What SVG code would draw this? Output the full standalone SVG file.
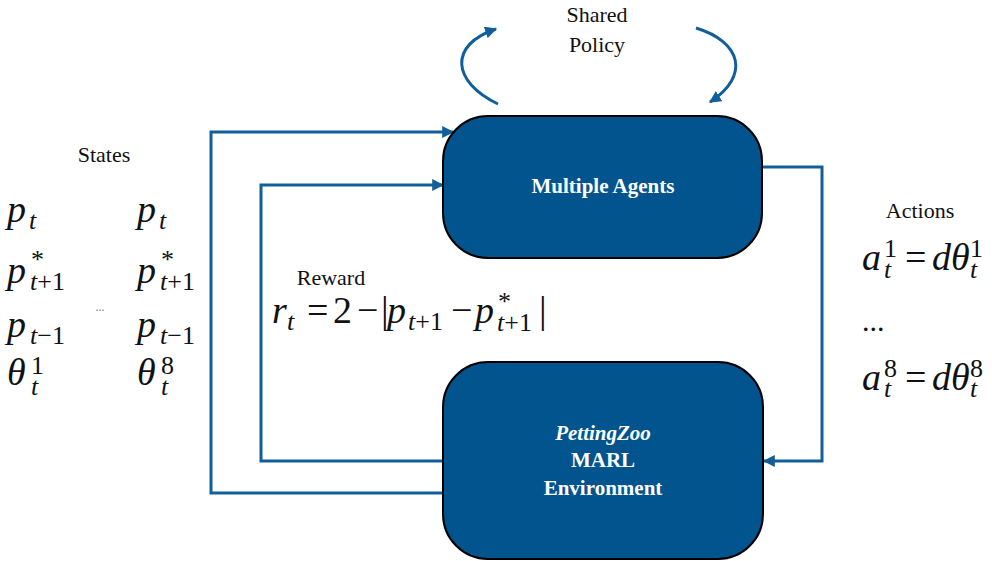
<svg xmlns="http://www.w3.org/2000/svg" width="992" height="561" viewBox="0 0 992 561">
<defs>
<marker id="ah" viewBox="0 0 10 10" refX="9" refY="5" markerWidth="4" markerHeight="4" orient="auto" markerUnits="strokeWidth">
<path d="M0,0 L10,5 L0,10 Z" fill="#115E9B"/>
</marker>
<style>
.box{fill:#02548F;stroke:#000;stroke-width:2}
.conn{fill:none;stroke:#115E9B;stroke-width:3}
.lbl{font-family:"Liberation Serif",serif;fill:#111;font-size:22px}
.bt{font-family:"Liberation Serif",serif;font-weight:bold;fill:#fff;font-size:21px;text-anchor:middle}
.m{font-family:"Liberation Serif",serif;font-style:italic;fill:#111;font-size:38px}
.s{font-style:italic;font-size:26px}
.rs{font-style:normal;font-size:26px}
.r{font-style:normal;font-size:38px}
</style>
</defs>
<rect width="992" height="561" fill="#fff"/>
<g id="connectors">
<polyline class="conn" points="443,493 211,493 211,132 453,132" marker-end="url(#ah)"/>
<polyline class="conn" points="443,461 261,461 261,185 443,185" marker-end="url(#ah)"/>
<polyline class="conn" points="762,167 822,167 822,461 764,461" marker-end="url(#ah)"/>
<path class="conn" d="M498,104 C452,82 448,45 496,29" marker-end="url(#ah)"/>
<path class="conn" d="M696,28 C742,42 750,76 710,102" marker-end="url(#ah)"/>
</g>
<g id="agents">
<rect class="box" x="443" y="116" width="319" height="142" rx="45" ry="45"/>
<text class="bt" x="603" y="193">Multiple Agents</text>
</g>
<g id="env">
<rect class="box" x="443" y="362" width="320" height="197" rx="45" ry="45"/>
<text class="bt" x="603" y="440" font-style="italic">PettingZoo</text>
<text class="bt" x="603" y="467">MARL</text>
<text class="bt" x="603" y="495">Environment</text>
</g>
<g id="shared-policy">
<text class="lbl" x="597" y="22" font-size="25" text-anchor="middle">Shared</text>
<text class="lbl" x="597" y="52" font-size="25" text-anchor="middle">Policy</text>
</g>
<g id="states">
<text class="lbl" x="104" y="162" text-anchor="middle">States</text>
<text class="m"><tspan x="7" y="222">p</tspan><tspan class="s" x="29" y="229">t</tspan></text>
<text class="m"><tspan x="7" y="283">p</tspan><tspan class="rs" x="31" y="268">*</tspan><tspan class="s" x="30" y="290">t</tspan><tspan class="rs">+1</tspan></text>
<text class="m"><tspan x="7" y="337">p</tspan><tspan class="s" x="30" y="344">t</tspan><tspan class="rs">−1</tspan></text>
<text class="m"><tspan x="7" y="385">θ</tspan><tspan class="rs" x="31" y="374">1</tspan><tspan class="s" x="31" y="395">t</tspan></text>
<text x="100" y="311" font-family="Liberation Serif, serif" font-size="12" text-anchor="middle" fill="#777">...</text>
<text class="m"><tspan x="137" y="222">p</tspan><tspan class="s" x="159" y="229">t</tspan></text>
<text class="m"><tspan x="137" y="283">p</tspan><tspan class="rs" x="161" y="268">*</tspan><tspan class="s" x="160" y="290">t</tspan><tspan class="rs">+1</tspan></text>
<text class="m"><tspan x="137" y="337">p</tspan><tspan class="s" x="160" y="344">t</tspan><tspan class="rs">−1</tspan></text>
<text class="m"><tspan x="137" y="385">θ</tspan><tspan class="rs" x="161" y="374">8</tspan><tspan class="s" x="161" y="395">t</tspan></text>
</g>
<g id="reward">
<text class="lbl" x="331" y="285" text-anchor="middle">Reward</text>
<text class="m"><tspan x="272" y="323">r</tspan><tspan class="s" x="287" y="330">t</tspan><tspan class="r" x="307" y="323">=</tspan><tspan class="r" x="333" y="323">2</tspan><tspan class="r" x="357" y="323">−</tspan><tspan class="r" x="381" y="323">|</tspan><tspan x="387" y="323">p</tspan><tspan class="s" x="408" y="330">t</tspan><tspan class="rs">+1</tspan><tspan class="r" x="451" y="323">−</tspan><tspan x="475" y="323">p</tspan><tspan class="rs" x="498" y="310">*</tspan><tspan class="s" x="497" y="331">t</tspan><tspan class="rs">+1</tspan><tspan class="r" x="539" y="323">|</tspan></text>
</g>
<g id="actions">
<text class="lbl" x="920" y="218" text-anchor="middle">Actions</text>
<text class="m"><tspan x="862" y="270">a</tspan><tspan class="rs" x="884" y="257">1</tspan><tspan class="s" x="884" y="278">t</tspan><tspan class="r" x="905" y="270">=</tspan><tspan x="932" y="270">dθ</tspan><tspan class="rs" x="970" y="257">1</tspan><tspan class="s" x="970" y="278">t</tspan></text>
<text x="862" y="331" font-family="Liberation Serif, serif" font-size="30" fill="#111">...</text>
<text class="m"><tspan x="862" y="390">a</tspan><tspan class="rs" x="884" y="377">8</tspan><tspan class="s" x="884" y="397">t</tspan><tspan class="r" x="905" y="390">=</tspan><tspan x="932" y="390">dθ</tspan><tspan class="rs" x="970" y="377">8</tspan><tspan class="s" x="970" y="397">t</tspan></text>
</g>
</svg>
